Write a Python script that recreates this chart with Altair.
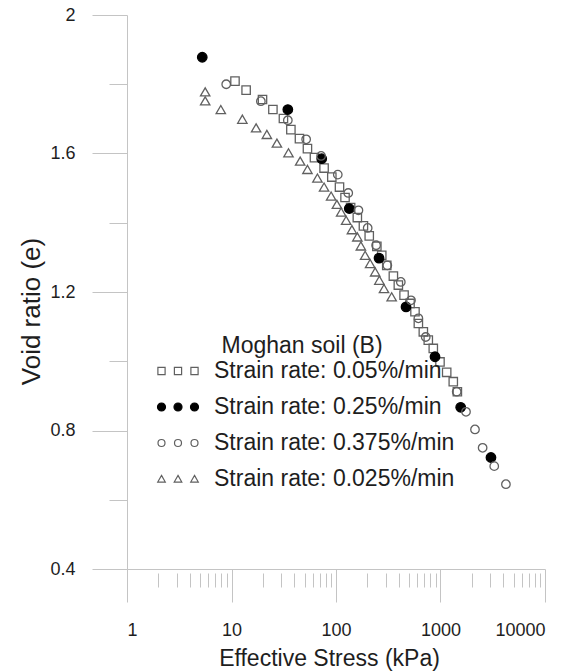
import altair as alt
import pandas as pd

# ---------------- data ----------------
series_names = [
    "Strain rate: 0.05%/min",
    "Strain rate: 0.25%/min",
    "Strain rate: 0.375%/min",
    "Strain rate: 0.025%/min",
]

sq_stress = [10.8, 13.8, 19.8, 24.9, 31.4, 37, 44.7, 53.3, 62.2, 76.9, 91.2, 108, 122, 138,
             160, 183, 208, 246, 274, 306, 354, 395, 448, 511, 570, 614, 685, 764, 853, 989,
             1146, 1325, 1450]
sq_e = [1.809, 1.783, 1.756, 1.727, 1.701, 1.669, 1.643, 1.614, 1.588, 1.558, 1.532, 1.503,
        1.473, 1.444, 1.415, 1.391, 1.362, 1.332, 1.306, 1.277, 1.246, 1.220, 1.191, 1.167,
        1.143, 1.109, 1.085, 1.061, 1.037, 0.998, 0.968, 0.941, 0.912]

fc_stress = [5.25, 34.6, 73, 134, 258, 468, 886, 1560, 3040]
fc_e = [1.878, 1.727, 1.585, 1.441, 1.298, 1.157, 1.013, 0.867, 0.722]

oc_stress = [8.9, 19.1, 34.6, 51.8, 72, 104, 131, 164, 201, 242, 310, 417, 522, 614, 722,
             1429, 1754, 2138, 2530, 3268, 4227]
oc_e = [1.800, 1.751, 1.696, 1.641, 1.593, 1.539, 1.486, 1.436, 1.385, 1.335, 1.277, 1.229,
        1.176, 1.124, 1.070, 0.912, 0.854, 0.803, 0.750, 0.697, 0.645]

tr_stress = [5.6, 5.6, 7.9, 12.7, 17.2, 21.8, 27.2, 35.1, 45.4, 53.3, 66.4, 76.9, 89.8, 102,
             112, 125, 142, 160, 173, 190, 212, 237, 260, 288, 341]
tr_e = [1.778, 1.752, 1.727, 1.699, 1.674, 1.655, 1.630, 1.602, 1.578, 1.554, 1.529, 1.503,
        1.477, 1.453, 1.431, 1.407, 1.380, 1.359, 1.333, 1.306, 1.282, 1.258, 1.234, 1.210,
        1.186]

x_major = [1, 10, 100, 1000, 10000]
x_minor = [m * d for d in [1, 10, 100, 1000] for m in range(2, 10)]
y_major = [0.4, 0.8, 1.2, 1.6, 2.0]
y_minor = [0.6, 1.0, 1.4, 1.8]

# ---------------- styling ----------------
FONT = "Liberation Sans"
TXT = "#1e1e1e"
AX = "#c4c4c4"
GRAY = "#606060"

def frame(xs, ys, name):
    return pd.DataFrame({"stress": xs, "e": ys, "series": name})

df = pd.concat([
    frame(sq_stress, sq_e, series_names[0]),
    frame(fc_stress, fc_e, series_names[1]),
    frame(oc_stress, oc_e, series_names[2]),
    frame(tr_stress, tr_e, series_names[3]),
], ignore_index=True)

x_scale = alt.Scale(type="log", domain=[1, 10000], nice=False)
y_scale = alt.Scale(domain=[0.4, 2.0], nice=False, zero=False)

# axis with labels, domain and title (no ticks)
x_axis_lab = alt.Axis(
    values=x_major, format="d", orient="bottom", grid=False, ticks=False,
    domainColor=AX, domainWidth=1,
    labelFont=FONT, labelFontSize=18, labelColor=TXT, labelPadding=52,
    title="Effective Stress (kPa)", titleFont=FONT, titleFontSize=23,
    titleFontWeight="normal", titleColor=TXT, titleX=202, titleY=96,
    titleBaseline="alphabetic",
)
y_axis_lab = alt.Axis(
    values=y_major, format=".1~f", orient="left", grid=False, ticks=False,
    domainColor=AX, domainWidth=1,
    labelFont=FONT, labelFontSize=18, labelColor=TXT, labelPadding=52,
    title="Void ratio (e)", titleFont=FONT, titleFontSize=26,
    titleFontWeight="normal", titleColor=TXT, titleX=-96, titleY=296,
    titleBaseline="middle", titleAlign="center",
)
# major ticks only
x_axis_major = alt.Axis(
    values=x_major, orient="bottom", grid=False, labels=False, domain=False,
    tickSize=33, tickColor=AX, tickWidth=1, title=None,
)
y_axis_major = alt.Axis(
    values=y_major, orient="left", grid=False, labels=False, domain=False,
    tickSize=35, tickColor=AX, tickWidth=1, title=None,
)
# minor ticks only
x_axis_minor = alt.Axis(
    values=x_minor, orient="bottom", grid=False, labels=False, domain=False,
    tickSize=14, offset=4, tickColor=AX, tickWidth=1, title=None,
)
y_axis_minor = alt.Axis(
    values=y_minor, orient="left", grid=False, labels=False, domain=False,
    tickSize=18, tickColor=AX, tickWidth=1, title=None,
)


def series_layer(name, shape, filled, color, size, axes=False):
    base = alt.Chart(df).transform_filter(alt.datum.series == name)
    mark = base.mark_point(
        shape=shape, filled=filled, size=size, opacity=1,
        stroke=color, strokeWidth=1.3,
        fill=color if filled else "transparent",
    )
    return mark.encode(
        x=alt.X("stress:Q", scale=x_scale, axis=x_axis_lab if axes else None),
        y=alt.Y("e:Q", scale=y_scale, axis=y_axis_lab if axes else None),
    )


tri = series_layer(series_names[3], "triangle-up", False, GRAY, 88, axes=True)
sq = series_layer(series_names[0], "square", False, GRAY, 70)
fc = series_layer(series_names[1], "circle", True, "black", 90)
oc = series_layer(series_names[2], "circle", False, GRAY, 72)

# legend symbols: three markers per entry, as custom paths (pixel units at symbolSize=4)
def tri3(r):
    return "".join(
        f"M{cx},{-r}L{cx + r * 1.05},{r * 0.85}L{cx - r * 1.05},{r * 0.85}Z"
        for cx in (0, 16.5, 33)
    )

def sq3(h):
    return "".join(f"M{cx - h},{-h}H{cx + h}V{h}H{cx - h}Z" for cx in (0, 16.5, 33))

def circ3(r):
    return "".join(
        f"M{cx - r},0A{r},{r},0,1,0,{cx + r},0A{r},{r},0,1,0,{cx - r},0Z"
        for cx in (0, 16.5, 33)
    )

legend_paths = [sq3(3.6), circ3(4.0), circ3(3.5), tri3(3.6)]

legend_layer = alt.Chart(df).transform_filter("false").mark_point(opacity=1).encode(
    x=alt.X("stress:Q", scale=x_scale, axis=x_axis_major),
    y=alt.Y("e:Q", scale=y_scale, axis=y_axis_major),
    shape=alt.Shape(
        "series:N",
        scale=alt.Scale(domain=series_names, range=legend_paths),
        legend=alt.Legend(
            title="Moghan soil (B)", orient="none", legendX=23, legendY=319.5,
            titleFont=FONT, titleFontSize=23, titleFontWeight="normal",
            titleColor=TXT, titleAnchor="middle", titlePadding=2,
            labelFont=FONT, labelFontSize=23, labelColor=TXT, labelLimit=0,
            labelOffset=41, symbolSize=4, symbolStrokeWidth=1.2,
            rowPadding=12, padding=0,
        ),
    ),
    fill=alt.Fill(
        "series:N",
        scale=alt.Scale(domain=series_names,
                        range=["transparent", "black", "transparent", "transparent"]),
    ),
    stroke=alt.Stroke(
        "series:N",
        scale=alt.Scale(domain=series_names, range=[GRAY, "black", GRAY, GRAY]),
    ),
)

minor_layer = alt.Chart(df).transform_filter("false").mark_point(opacity=0).encode(
    x=alt.X("stress:Q", scale=x_scale, axis=x_axis_minor),
    y=alt.Y("e:Q", scale=y_scale, axis=y_axis_minor),
)

chart = alt.layer(tri, sq, fc, oc, legend_layer, minor_layer).resolve_axis(
    x="independent", y="independent"
).properties(
    width=418, height=554,
    padding={"left": 127, "top": 15, "right": 37, "bottom": 102},
    autosize=alt.AutoSizeParams(type="none"),
    background="white",
).configure_view(stroke=None)

chart.save("out.html", embed_options={"renderer": "svg", "actions": False})
